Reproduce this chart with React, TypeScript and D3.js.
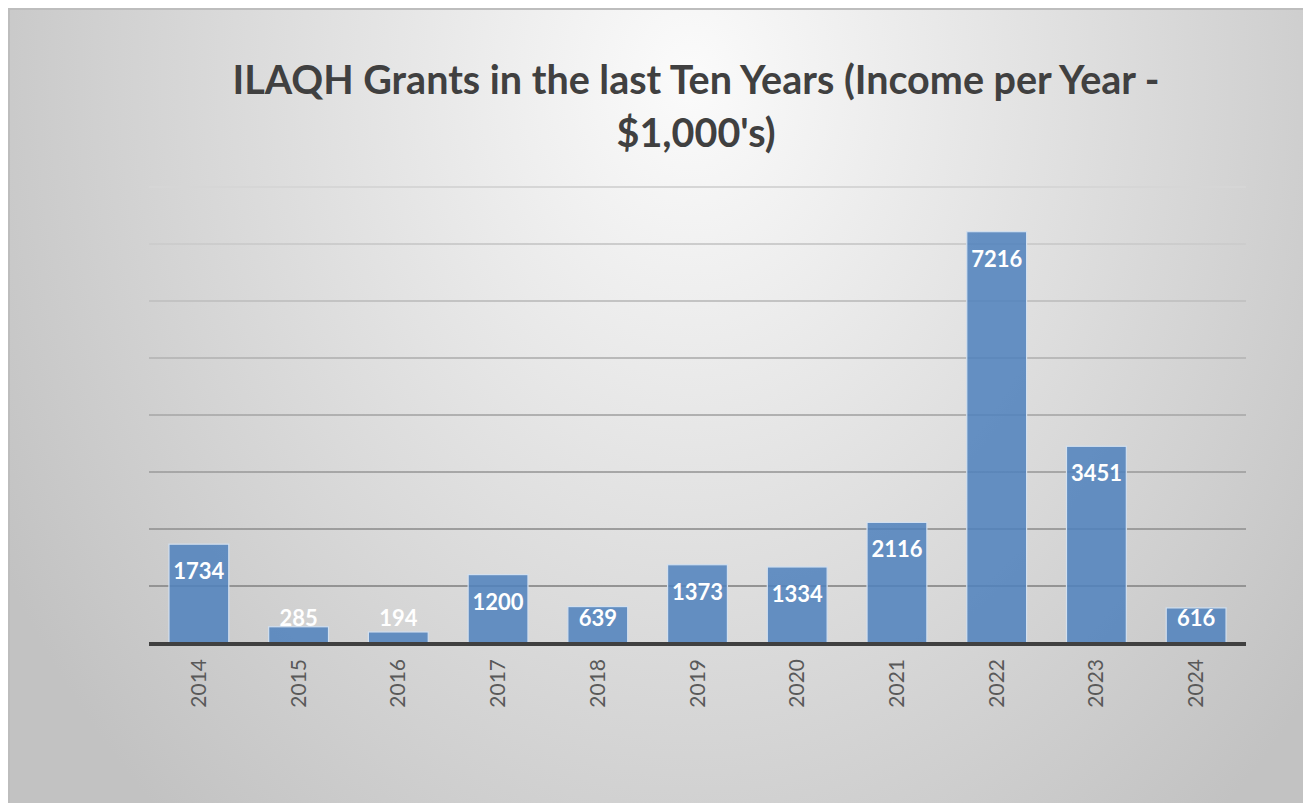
import React, { useRef, useEffect } from 'react';
import * as d3 from 'd3';

const years = ['2014', '2015', '2016', '2017', '2018', '2019', '2020', '2021', '2022', '2023', '2024'];
const income = [1734, 285, 194, 1200, 639, 1373, 1334, 2116, 7216, 3451, 616];
const gridTicks = [1000, 2000, 3000, 4000, 5000, 6000, 7000, 8000];
const titleLines = ['ILAQH Grants in the last Ten Years (Income per Year -', "$1,000's)"];

const W = 1303;
const H = 803;
const FONT = 'Lato, "Open Sans", sans-serif';

const App = () => {
  const svgRef = useRef<SVGSVGElement>(null);

  useEffect(() => {
    const left = 149, right = 1246, top = 187, bottom = 643;

    const x = d3.scaleBand<string>()
      .domain(years)
      .range([left, right])
      .paddingInner(0.4)
      .paddingOuter(0.2);
    const y = d3.scaleLinear()
      .domain([0, 8000])
      .range([bottom, top]);

    const svg = d3.select(svgRef.current)
      .attr('width', W)
      .attr('height', H)
      .html('');

    // Background gradient + frame
    const defs = svg.append('defs');
    const bg = defs.append('radialGradient')
      .attr('id', 'bg')
      .attr('gradientUnits', 'userSpaceOnUse')
      .attr('cx', 690).attr('cy', 80).attr('r', 790)
      .attr('gradientTransform', 'translate(690,80) scale(1,1.25) translate(-690,-80)');
    bg.append('stop').attr('offset', '0%').attr('stop-color', '#fbfbfb');
    bg.append('stop').attr('offset', '100%').attr('stop-color', '#c2c2c2');

    const grid = defs.append('linearGradient')
      .attr('id', 'grid')
      .attr('gradientUnits', 'userSpaceOnUse')
      .attr('x1', 0).attr('y1', top).attr('x2', 0).attr('y2', bottom);
    grid.append('stop').attr('offset', '0%').attr('stop-color', '#d6d6d6');
    grid.append('stop').attr('offset', '100%').attr('stop-color', '#8a8a8a');

    svg.append('rect')
      .attr('x', 9).attr('y', 9)
      .attr('width', W).attr('height', H)
      .attr('fill', 'url(#bg)')
      .attr('stroke', '#bdbdbd')
      .attr('stroke-width', 2);

    // Title
    svg.append('text')
      .attr('text-anchor', 'middle')
      .attr('font-family', FONT)
      .attr('font-weight', 700)
      .attr('font-size', 39.5)
      .attr('fill', '#404040')
      .selectAll('tspan')
      .data(titleLines)
      .enter()
      .append('tspan')
        .attr('x', 696)
        .attr('y', (d, i) => 94 + i * 53)
        .text(d => d);

    // Gridlines
    svg.append('g')
      .selectAll('line')
      .data(gridTicks)
      .enter()
      .append('line')
        .attr('x1', left)
        .attr('x2', right)
        .attr('y1', d => y(d))
        .attr('y2', d => y(d))
        .attr('stroke', 'url(#grid)')
        .attr('stroke-width', 2);

    // Bars
    svg.append('g')
      .selectAll('rect')
      .data(income)
      .enter()
      .append('rect')
        .attr('x', (d, i) => x(years[i]) as number)
        .attr('y', d => y(d))
        .attr('width', x.bandwidth())
        .attr('height', d => y(0) - y(d))
        .attr('fill', '#4f81bd')
        .attr('fill-opacity', 0.86)
        .attr('stroke', '#d3e0ef')
        .attr('stroke-width', 1.2);

    // Axis baseline
    svg.append('line')
      .attr('x1', left).attr('x2', right)
      .attr('y1', y(0) + 1).attr('y2', y(0) + 1)
      .attr('stroke', '#404040')
      .attr('stroke-width', 4);

    // Data labels
    svg.append('g')
      .selectAll('text')
      .data(income)
      .enter()
      .append('text')
        .attr('x', (d, i) => (x(years[i]) as number) + x.bandwidth() / 2)
        .attr('y', d => Math.min(y(d) + 35, y(0) - 17))
        .attr('text-anchor', 'middle')
        .attr('font-family', FONT)
        .attr('font-weight', 700)
        .attr('font-size', 22)
        .attr('fill', '#ffffff')
        .text(d => d);

    // Category labels
    svg.append('g')
      .selectAll('text')
      .data(years)
      .enter()
      .append('text')
        .attr('transform', d => `translate(${(x(d) as number) + x.bandwidth() / 2 + 7},659) rotate(-90)`)
        .attr('text-anchor', 'end')
        .attr('font-family', FONT)
        .attr('font-size', 21)
        .attr('fill', '#595959')
        .text(d => d);
  }, []);

  return <svg ref={svgRef} style={{ position: 'fixed', left: 0, top: 0, background: '#ffffff' }} />;
};

export default App;
